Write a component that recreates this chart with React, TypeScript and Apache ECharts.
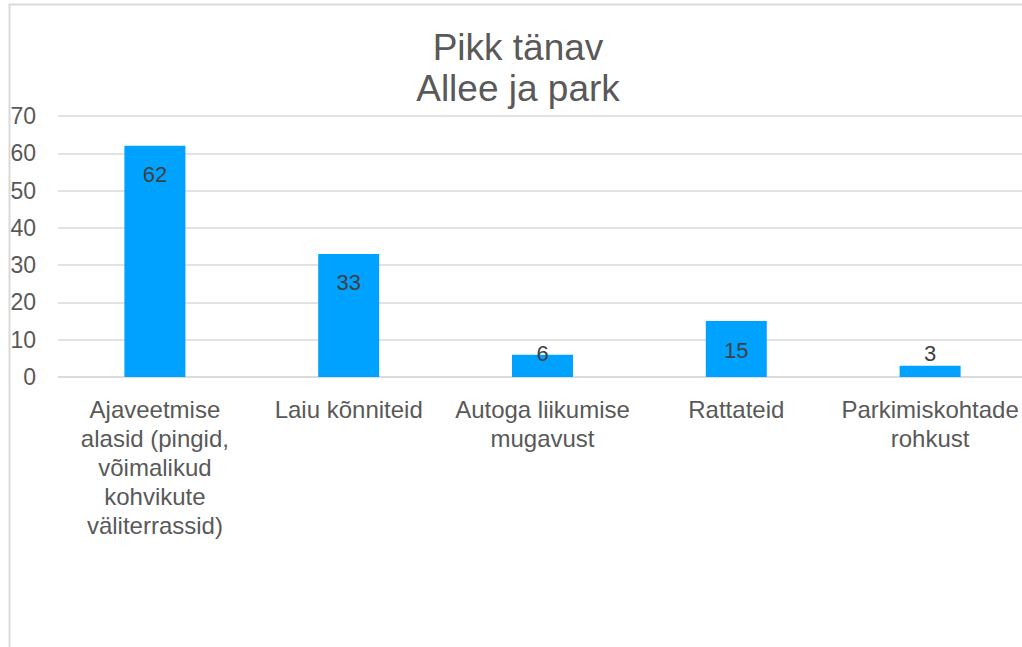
import React, { useEffect, useRef } from "react";
import * as echarts from "echarts";

const titleLines = ["Pikk tänav", "Allee ja park"];
const categories = [
  "Ajaveetmise\nalasid (pingid,\nvõimalikud\nkohvikute\nväliterrassid)",
  "Laiu kõnniteid",
  "Autoga liikumise\nmugavust",
  "Rattateid",
  "Parkimiskohtade\nrohkust",
];
const values = [62, 33, 6, 15, 3];
const yTicks = { min: 0, max: 70, interval: 10 };

const FONT = "'Liberation Sans', Arial, Helvetica, sans-serif";
const TEXT = "#595959";
const GRID = "#d9d9d9";

export default function App() {
  const ref = useRef<HTMLDivElement>(null);
  useEffect(() => {
    if (!ref.current) return;
    const chart = echarts.init(ref.current, null, { renderer: "svg" });
    const data = values.map((v) => ({
      value: v,
      label:
        v < 10
          ? { position: "insideBottom", distance: 13 }
          : { position: "insideTop", distance: 18 },
    }));
    chart.setOption({
      animation: false,
      backgroundColor: "#ffffff",
      textStyle: { fontFamily: FONT },
      title: {
        text: titleLines.join("\n"),
        left: 513,
        top: 22,
        textAlign: "center",
        textStyle: {
          fontFamily: FONT,
          fontSize: 37,
          fontWeight: "normal",
          color: TEXT,
          lineHeight: 41,
        },
      },
      graphic: [
        {
          type: "rect",
          shape: { x: 9.5, y: 4.5, width: 1200, height: 1000 },
          style: { fill: "none", stroke: GRID, lineWidth: 2 },
          silent: true,
        },
      ],
      grid: { left: 58, top: 116, width: 969, height: 261, containLabel: false },
      xAxis: {
        type: "category",
        data: categories,
        axisLine: { show: true, lineStyle: { color: GRID, width: 1.5 } },
        axisTick: { show: false },
        axisLabel: {
          interval: 0,
          fontSize: 24,
          lineHeight: 29,
          color: TEXT,
          margin: 18,
          fontFamily: FONT,
        },
      },
      yAxis: {
        type: "value",
        min: yTicks.min,
        max: yTicks.max,
        interval: yTicks.interval,
        axisLine: { show: false },
        axisTick: { show: false },
        axisLabel: { fontSize: 23, color: TEXT, margin: 22, fontFamily: FONT },
        splitLine: { lineStyle: { color: GRID, width: 1.5 } },
      },
      series: [
        {
          type: "bar",
          data,
          barWidth: 61,
          itemStyle: { color: "#00a2ff" },
          label: {
            show: true,
            fontSize: 22,
            color: "#404040",
            fontFamily: FONT,
          },
        },
      ],
    });
    return () => chart.dispose();
  }, []);
  return (
    <div
      style={{
        position: "absolute",
        left: 0,
        top: 0,
        width: 1022,
        height: 647,
        overflow: "hidden",
      }}
    >
      <div ref={ref} style={{ width: 1040, height: 647 }} />
    </div>
  );
}
